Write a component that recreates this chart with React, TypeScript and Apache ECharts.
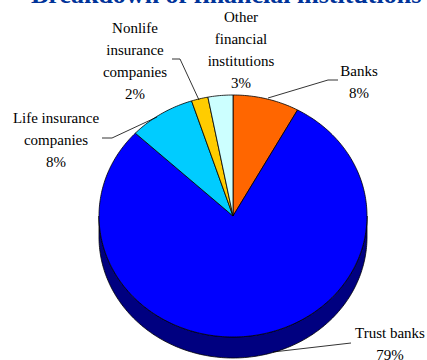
import React, { useEffect, useRef } from "react";
import * as echarts from "echarts";

const titleText = "Breakdown of financial institutions";
const categories = ["Banks", "Trust banks", "Life insurance companies", "Nonlife insurance companies", "Other financial institutions"];
const shares = [8, 79, 8, 2, 3];
const sliceColors = ["#FF6600", "#0000FF", "#00CCFF", "#FFCC00", "#CCFFFF"];
const labelLines = [
  ["Banks"],
  ["Trust banks"],
  ["Life insurance", "companies"],
  ["Nonlife", "insurance", "companies"],
  ["Other", "financial", "institutions"],
];

// Pie geometry: an ellipse tilted into a disc with a dark rim below it.
const CX = 233;
const CY = 216;
const RX = 134;
const RY = 121;
const DEPTH = 21;
const RIM = "#000080";
const LINE_HEIGHT = 22;
const FONT = '"Liberation Serif", "Times New Roman", serif';

// Where each slice's label block is centred, and its leader line.
const labelBlocks = [
  { x: 359, y: 71, leader: [[268, 98], [328, 80], [338, 80]] },
  { x: 390, y: 333, leader: [[273, 352], [351, 343]] },
  { x: 56, y: 118, leader: [[157, 117], [112, 138], [102, 138]] },
  { x: 135, y: 28, leader: [[199, 100], [180, 59], [172, 59]] },
  { x: 241, y: 17, leader: [] as number[][] },
];

const total = shares.reduce((a, b) => a + b, 0);

function pointAt(fraction: number, dy = 0): number[] {
  const t = fraction * Math.PI * 2;
  return [CX + RX * Math.sin(t), CY - RY * Math.cos(t) + dy];
}

function arcPoints(from: number, to: number, dy = 0): number[][] {
  const steps = Math.max(2, Math.ceil((to - from) * 360));
  const pts: number[][] = [];
  for (let i = 0; i <= steps; i++) pts.push(pointAt(from + ((to - from) * i) / steps, dy));
  return pts;
}

function renderSlice(params: any, api: any) {
  const i = params.dataIndex;
  const before = shares.slice(0, i).reduce((a, b) => a + b, 0);
  const from = before / total;
  const to = (before + api.value(1)) / total;
  const children: any[] = [];

  // Only the part of the arc on the lower half of the disc shows a rim.
  const rimFrom = Math.max(from, 0.25);
  const rimTo = Math.min(to, 0.75);
  if (rimTo > rimFrom) {
    const top = arcPoints(rimFrom, rimTo);
    const bottom = arcPoints(rimFrom, rimTo, DEPTH).reverse();
    children.push({
      type: "polygon",
      shape: { points: [...top, ...bottom] },
      style: { fill: RIM, stroke: "#000", lineWidth: 0.8 },
    });
  }
  children.push({
    type: "polygon",
    shape: { points: [[CX, CY], ...arcPoints(from, to)] },
    style: { fill: sliceColors[i], stroke: "#000", lineWidth: 0.8 },
  });
  return { type: "group", children };
}

function labelGraphics() {
  const out: any[] = [];
  categories.forEach((_, i) => {
    const block = labelBlocks[i];
    [...labelLines[i], `${shares[i]}%`].forEach((text, row) => {
      out.push({
        type: "text",
        x: block.x,
        y: block.y + row * LINE_HEIGHT,
        z: 10,
        style: { text, fill: "#000", font: `15px ${FONT}`, textAlign: "center", textVerticalAlign: "middle" },
      });
    });
    if (block.leader.length) {
      out.push({
        type: "polyline",
        z: 9,
        shape: { points: block.leader },
        style: { fill: "none", stroke: "#000", lineWidth: 0.8 },
      });
    }
  });
  return out;
}

export default function App() {
  const ref = useRef<HTMLDivElement>(null);
  useEffect(() => {
    document.body.style.margin = "0";
    const chart = echarts.init(ref.current!, null, { renderer: "svg" });
    chart.setOption({
      animation: false,
      backgroundColor: "#fff",
      title: {
        text: titleText,
        left: 31,
        top: -19,
        padding: 0,
        textStyle: { color: "#003399", fontFamily: FONT, fontWeight: "bold", fontSize: 26 },
      },
      series: [
        {
          type: "custom",
          coordinateSystem: "none",
          renderItem: renderSlice,
          data: categories.map((name, i) => [name, shares[i]]),
        },
      ],
      graphic: labelGraphics(),
    });
    return () => chart.dispose();
  }, []);
  return <div ref={ref} style={{ width: 427, height: 360 }} />;
}
